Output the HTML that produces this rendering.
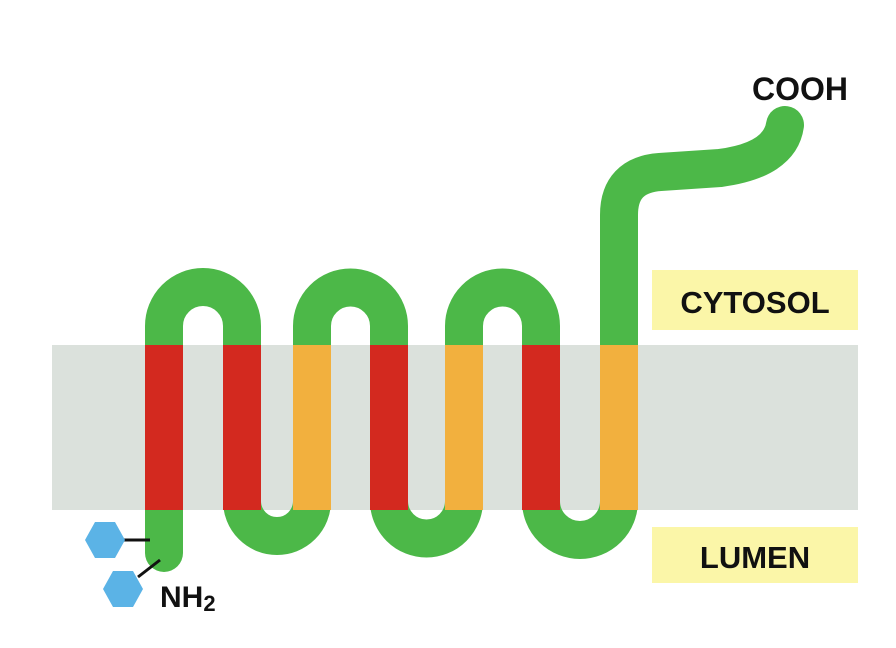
<!DOCTYPE html>
<html><head><meta charset="utf-8"><style>
html,body{margin:0;padding:0;background:#fff;}
svg{display:block;}
text{font-family:"Liberation Sans",sans-serif;font-weight:bold;fill:#111;}
</style></head><body>
<svg width="896" height="648" viewBox="0 0 896 648">
  <rect x="52" y="345" width="806" height="165" fill="#dbe1dc"/>
  <path d="M164 553 L164 326 A39 39 0 0 1 242 326 L242 501 A35 35 0 0 0 312 501 L312 326 A38.5 38.5 0 0 1 389 326 L389 501 A37.5 37.5 0 0 0 464 501 L464 326 A38.5 38.5 0 0 1 541 326 L541 501 A39 39 0 0 0 619 501 L619 215 Q619 175 660 172 L720 168 Q780 160 785 125" fill="none" stroke="#4cb848" stroke-width="38" stroke-linecap="round" stroke-linejoin="round"/>
  <rect x="145" y="345" width="38" height="165" fill="#d3291f"/>
  <rect x="223" y="345" width="38" height="165" fill="#d3291f"/>
  <rect x="293" y="345" width="38" height="165" fill="#f2b03e"/>
  <rect x="370" y="345" width="38" height="165" fill="#d3291f"/>
  <rect x="445" y="345" width="38" height="165" fill="#f2b03e"/>
  <rect x="522" y="345" width="38" height="165" fill="#d3291f"/>
  <rect x="600" y="345" width="38" height="165" fill="#f2b03e"/>
  <rect x="652" y="270" width="206" height="60" fill="#fbf6a8"/>
  <text x="755" y="313" font-size="31" text-anchor="middle">CYTOSOL</text>
  <rect x="652" y="527" width="206" height="56" fill="#fbf6a8"/>
  <text x="755" y="568" font-size="31" text-anchor="middle">LUMEN</text>
  <text x="800" y="100" font-size="32" text-anchor="middle">COOH</text>
  <text x="160" y="607" font-size="30">NH<tspan font-size="22" dy="4">2</tspan></text>
  <line x1="122" y1="540" x2="150" y2="540" stroke="#111" stroke-width="3"/>
  <line x1="138" y1="577" x2="160" y2="560" stroke="#111" stroke-width="3"/>
  <polygon points="85,540 95,522 115,522 125,540 115,558 95,558" fill="#5bb3e6"/>
  <polygon points="103,589 113,571 133,571 143,589 133,607 113,607" fill="#5bb3e6"/>
</svg>
</body></html>
